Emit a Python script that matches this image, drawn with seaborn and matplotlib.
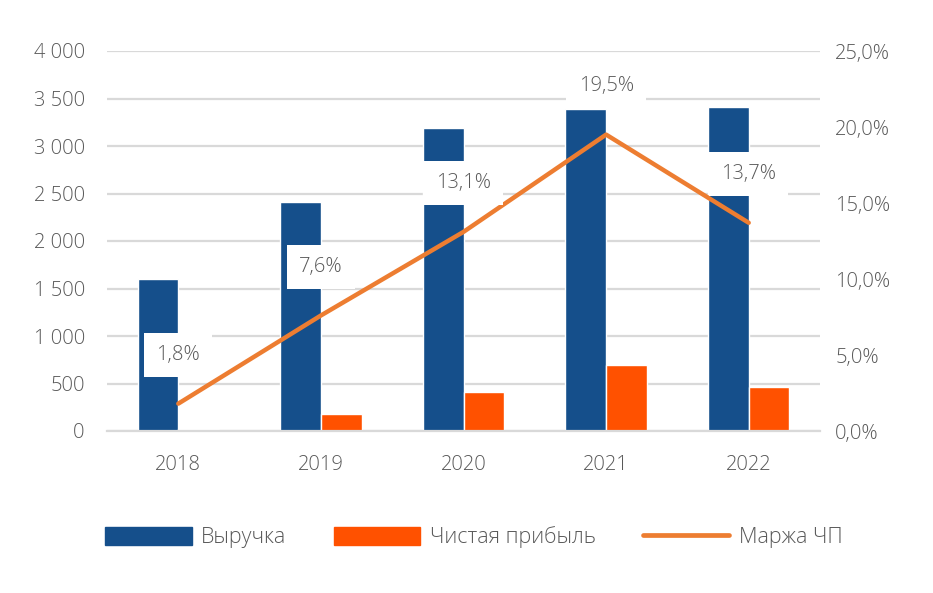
import numpy as np
import pandas as pd
import matplotlib
matplotlib.use("Agg")
import matplotlib.pyplot as plt
import seaborn as sns
from matplotlib.ticker import FuncFormatter
from matplotlib.patches import Patch
from matplotlib.lines import Line2D

# --- dati ---
anni = ["2018", "2019", "2020", "2021", "2022"]
ricavi = [1600, 2410, 3190, 3390, 3410]
utile_netto = [20, 180, 410, 695, 463]
margine = [1.8, 7.6, 13.1, 19.5, 13.7]
serie_nomi = ["Выручка", "Чистая прибыль"]
margine_nome = "Маржа ЧП"

df = pd.DataFrame({
    "anno": anni * 2,
    "valore": ricavi + utile_netto,
    "serie": [serie_nomi[0]] * len(anni) + [serie_nomi[1]] * len(anni),
})

sns.set_theme(style="white")
plt.rcParams["font.family"] = ["Open Sans", "DejaVu Sans"]
plt.rcParams["font.weight"] = "light"
fs = 14.5
grigio = "#595959"
blu = "#154F8B"
arancio = "#FF5100"
linea_col = "#ED7D31"

fig = plt.figure(figsize=(9.33, 5.93), dpi=100)
ax = fig.add_axes([107 / 933, 1 - 431 / 593, 713 / 933, 380 / 593])

sns.barplot(data=df, x="anno", y="valore", hue="serie", order=anni,
            palette=[blu, arancio], width=0.57, saturation=1, ax=ax, legend=False)

ax.set_ylim(0, 4000)
ax.set_yticks(np.arange(0, 4001, 500))
ax.yaxis.set_major_formatter(FuncFormatter(lambda v, p: f"{int(v):,}".replace(",", " ")))
ax.grid(axis="y", color="#D9D9D9", linewidth=1.6)
ax.set_axisbelow(True)
for s in ["top", "left", "right"]:
    ax.spines[s].set_visible(False)
ax.spines["bottom"].set_color("#D9D9D9")
ax.spines["bottom"].set_linewidth(1.6)
ax.set_xlabel("")
ax.set_ylabel("")
ax.tick_params(axis="y", length=0, pad=16, labelsize=fs, labelcolor=grigio)
ax.tick_params(axis="x", length=0, pad=17, labelsize=fs, labelcolor=grigio)

# asse destro per la marža
ax2 = ax.twinx()
pos = np.arange(len(anni))
sns.lineplot(x=pos, y=margine, color=linea_col, linewidth=3.2, ax=ax2,
             solid_capstyle="round")
ax2.set_ylim(0, 25)
ax2.set_yticks(np.arange(0, 26, 5))
ax2.yaxis.set_major_formatter(FuncFormatter(lambda v, p: f"{v:.1f}%".replace(".", ",")))
ax2.tick_params(axis="y", length=0, pad=11, labelsize=fs, labelcolor=grigio)
for s in ax2.spines.values():
    s.set_visible(False)
ax2.grid(False)
ax2.set_xlim(-0.5, len(anni) - 0.5)

for i, m in enumerate(margine):
    ax2.annotate(f"{m:.1f}%".replace(".", ","), (i, m), xytext=(0, 35),
                 textcoords="offset points", ha="center", va="center",
                 fontsize=fs, color=grigio, zorder=5,
                 bbox=dict(boxstyle="square,pad=0.6", fc="white", ec="none"))

# legenda
handles = [Patch(color=blu), Patch(color=arancio),
           Line2D([0], [0], color=linea_col, linewidth=3.4, solid_capstyle="round")]
fig.legend(handles, serie_nomi + [margine_nome], loc="center", bbox_to_anchor=(0.508, 0.094),
           ncol=3, frameon=False, fontsize=15.5, labelcolor=grigio,
           handlelength=4.0, handleheight=0.95, handletextpad=0.45, columnspacing=2.2)

fig.savefig("out.png", dpi=100)
